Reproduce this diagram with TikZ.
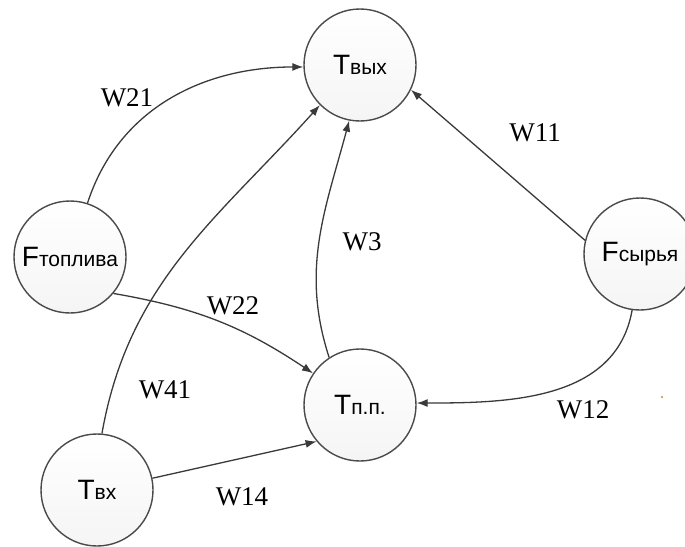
\documentclass[tikz,border=0pt]{standalone}
\usepackage{fontspec}
\setmainfont{Liberation Serif}
\newfontfamily\nodefont{Liberation Sans}
\usetikzlibrary{arrows.meta}
\definecolor{edgegray}{HTML}{3A3A3A}
\definecolor{ringgray}{HTML}{4A4A4A}
\tikzset{
  state/.style={circle, draw=ringgray, line width=1.4pt, minimum size=112pt,
    inner sep=0pt, top color=white, bottom color=gray!8, font=\nodefont},
  link/.style={draw=edgegray, line width=1.3pt,
    -{Latex[length=11pt,width=8pt]}},
  weight/.style={font=\fontsize{27}{27}\selectfont, text=black}
}
\newcommand{\bigsym}[2]{{\fontsize{28}{28}\selectfont #1}{\fontsize{21}{21}\selectfont #2}}
\begin{document}
\begin{tikzpicture}[x=1pt,y=1pt]
  \useasboundingbox (0,0) rectangle (685,-546);
  \clip (0,0) rectangle (685,-546);
  \fill[white] (0,0) rectangle (685,-546);

  % variables
  \node[state] (tout) at (360,-65)  {\bigsym{T}{вых}};
  \node[state] (ftop) at (70,-257)  {\bigsym{F}{топлива}};
  \node[state] (fsyr) at (640,-254) {\bigsym{F}{сырья}};
  \node[state] (tpp)  at (360,-405) {\bigsym{T}{п.п.}};
  \node[state] (tin)  at (97,-490)  {\bigsym{T}{вх}};

  % influences
  \draw[link] (ftop.72) to[out=72,in=180] (tout.182);
  \draw[link] (fsyr.166) -- (tout.-26);
  \draw[link] (tpp.123) to[out=108,in=-105] (tout.-101);
  \draw[link] (tin.85) to[out=80,in=-132] (tout.-135);
  \draw[link] (ftop.-40) to[bend left=12] (tpp.146);
  \draw[link] (fsyr.-98) to[out=-100,in=0] (tpp.2);
  \draw[link] (tin.12) -- (tpp.-140);

  % weights
  \node[weight] (w21) at (127,-98)  {W21};
  \node[weight] (w11) at (535,-133) {W11};
  \node[weight] (w3)  at (362,-242) {W3};
  \node[weight] (w22) at (233,-306) {W22};
  \node[weight] (w41) at (165,-390) {W41};
  \node[weight] (w12) at (583,-410) {W12};
  \node[weight] (w14) at (242,-497) {W14};

  % stray mark
  \fill[orange!70!brown] (662,-397) circle (1.2pt);
\end{tikzpicture}
\end{document}
